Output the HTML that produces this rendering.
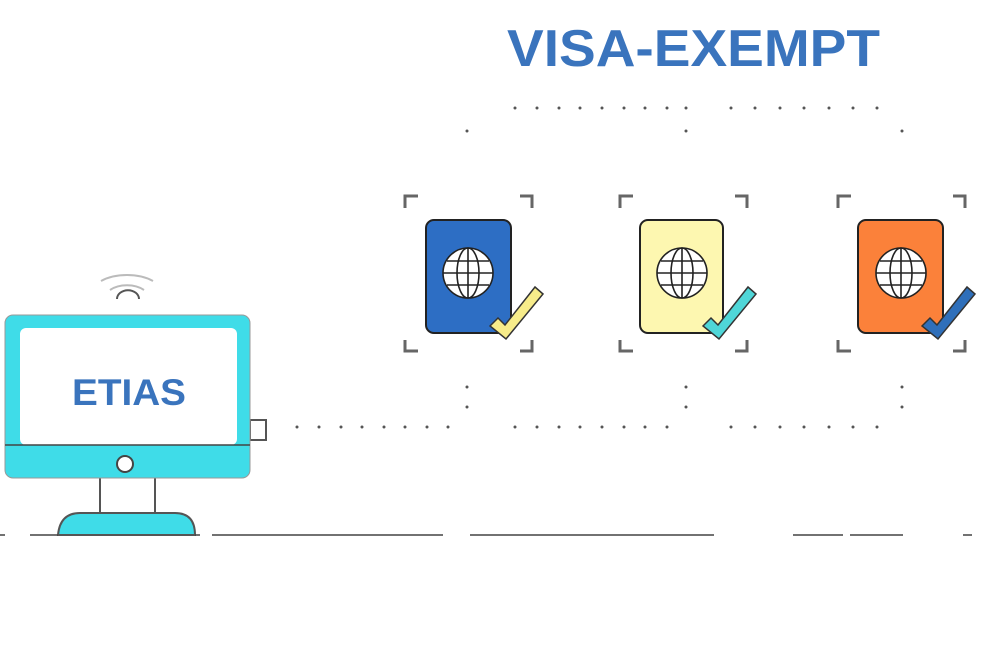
<!DOCTYPE html>
<html><head><style>body{margin:0;background:#fff}svg{display:block}</style></head><body>
<svg width="1000" height="666" viewBox="0 0 1000 666" xmlns="http://www.w3.org/2000/svg">
<rect width="1000" height="666" fill="#fff"/>
<text x="507" y="66" textLength="373" lengthAdjust="spacingAndGlyphs" font-family="Liberation Sans, sans-serif" font-weight="bold" font-size="52" fill="#3a74bd">VISA-EXEMPT</text>
<g fill="#555">
<circle cx="515" cy="108" r="1.5"/><circle cx="537" cy="108" r="1.5"/><circle cx="559" cy="108" r="1.5"/><circle cx="580" cy="108" r="1.5"/><circle cx="602" cy="108" r="1.5"/><circle cx="624" cy="108" r="1.5"/><circle cx="645" cy="108" r="1.5"/><circle cx="667" cy="108" r="1.5"/><circle cx="686" cy="108" r="1.5"/>
<circle cx="731" cy="108" r="1.5"/><circle cx="755" cy="108" r="1.5"/><circle cx="780" cy="108" r="1.5"/><circle cx="804" cy="108" r="1.5"/><circle cx="829" cy="108" r="1.5"/><circle cx="853" cy="108" r="1.5"/><circle cx="877" cy="108" r="1.5"/>
<circle cx="467" cy="131" r="1.5"/><circle cx="686" cy="131" r="1.5"/><circle cx="902" cy="131" r="1.5"/>
<circle cx="467" cy="387" r="1.5"/><circle cx="686" cy="387" r="1.5"/><circle cx="902" cy="387" r="1.5"/>
<circle cx="467" cy="407" r="1.5"/><circle cx="686" cy="407" r="1.5"/><circle cx="902" cy="407" r="1.5"/>
<circle cx="297" cy="427" r="1.5"/><circle cx="319" cy="427" r="1.5"/><circle cx="341" cy="427" r="1.5"/><circle cx="362" cy="427" r="1.5"/><circle cx="384" cy="427" r="1.5"/><circle cx="405" cy="427" r="1.5"/><circle cx="427" cy="427" r="1.5"/><circle cx="448" cy="427" r="1.5"/>
<g transform="translate(0,319)">
<circle cx="515" cy="108" r="1.5"/><circle cx="537" cy="108" r="1.5"/><circle cx="559" cy="108" r="1.5"/><circle cx="580" cy="108" r="1.5"/><circle cx="602" cy="108" r="1.5"/><circle cx="624" cy="108" r="1.5"/><circle cx="645" cy="108" r="1.5"/><circle cx="667" cy="108" r="1.5"/>
<circle cx="731" cy="108" r="1.5"/><circle cx="755" cy="108" r="1.5"/><circle cx="780" cy="108" r="1.5"/><circle cx="804" cy="108" r="1.5"/><circle cx="829" cy="108" r="1.5"/><circle cx="853" cy="108" r="1.5"/><circle cx="877" cy="108" r="1.5"/>
</g>
</g>
<g stroke="#666" stroke-width="3" fill="none">
<g id="br"><path d="M405 208V196H418M520 196H532V208M405 340V351H418M520 351H532V340"/></g>
<use href="#br" x="215"/><use href="#br" x="433"/>
</g>
<g stroke="#222" stroke-width="2">
<rect x="426" y="220" width="85" height="113" rx="8" fill="#2d6ec4"/>
<rect x="640" y="220" width="83" height="113" rx="8" fill="#fdf7b0"/>
<rect x="858" y="220" width="85" height="113" rx="8" fill="#fb813a"/>
</g>
<g id="gl" stroke="#222" stroke-width="1.6" fill="#fff">
<circle cx="468" cy="273" r="25"/>
<ellipse cx="468" cy="273" rx="11" ry="25" fill="none"/>
<path d="M468 248V298M443 273H493M447 261H489M447 285H489" fill="none"/>
</g>
<use href="#gl" x="214"/><use href="#gl" x="433"/>
<g stroke="#333" stroke-width="1.5">
<path d="M490 326l8-8 7 7 30-38 8 7-37 45z" fill="#f7ec8a"/>
<path d="M703 326l8-8 7 7 30-38 8 7-37 45z" fill="#4fd6d8"/>
<path d="M922 326l8-8 7 7 30-38 8 7-37 45z" fill="#2f6fba"/>
</g>
<g stroke="#555" stroke-width="2">
<path d="M117 299a10 8 0 0 1 22 0" fill="none"/>
<path d="M110 290a24 16 0 0 1 34 0M101 281a38 22 0 0 1 52 0" fill="none" stroke="#bbb"/>
<rect x="250" y="420" width="16" height="20" fill="#fff"/>
<path d="M100 478V516M155 478V516" fill="none"/>
<path d="M58 535Q60 513 80 513H175Q195 513 195 535Z" fill="#3fdce8"/>
</g>
<rect x="5" y="315" width="245" height="163" rx="8" fill="#3fdce8" stroke="#999" stroke-width="1"/>
<rect x="20" y="328" width="217" height="117" rx="6" fill="#fff"/>
<line x1="5" y1="445" x2="250" y2="445" stroke="#444" stroke-width="1.5"/>
<circle cx="125" cy="464" r="8" fill="#fff" stroke="#444" stroke-width="2"/>
<text x="72" y="405" textLength="114" lengthAdjust="spacingAndGlyphs" font-family="Liberation Sans, sans-serif" font-weight="bold" font-size="37" fill="#3a74bd">ETIAS</text>
<g stroke="#444" stroke-width="1.6">
<path d="M0 535H5M30 535H58M195 535H200M212 535H443M470 535H714M793 535H843M850 535H903M963 535H972"/>
</g>
</svg>
</body></html>
